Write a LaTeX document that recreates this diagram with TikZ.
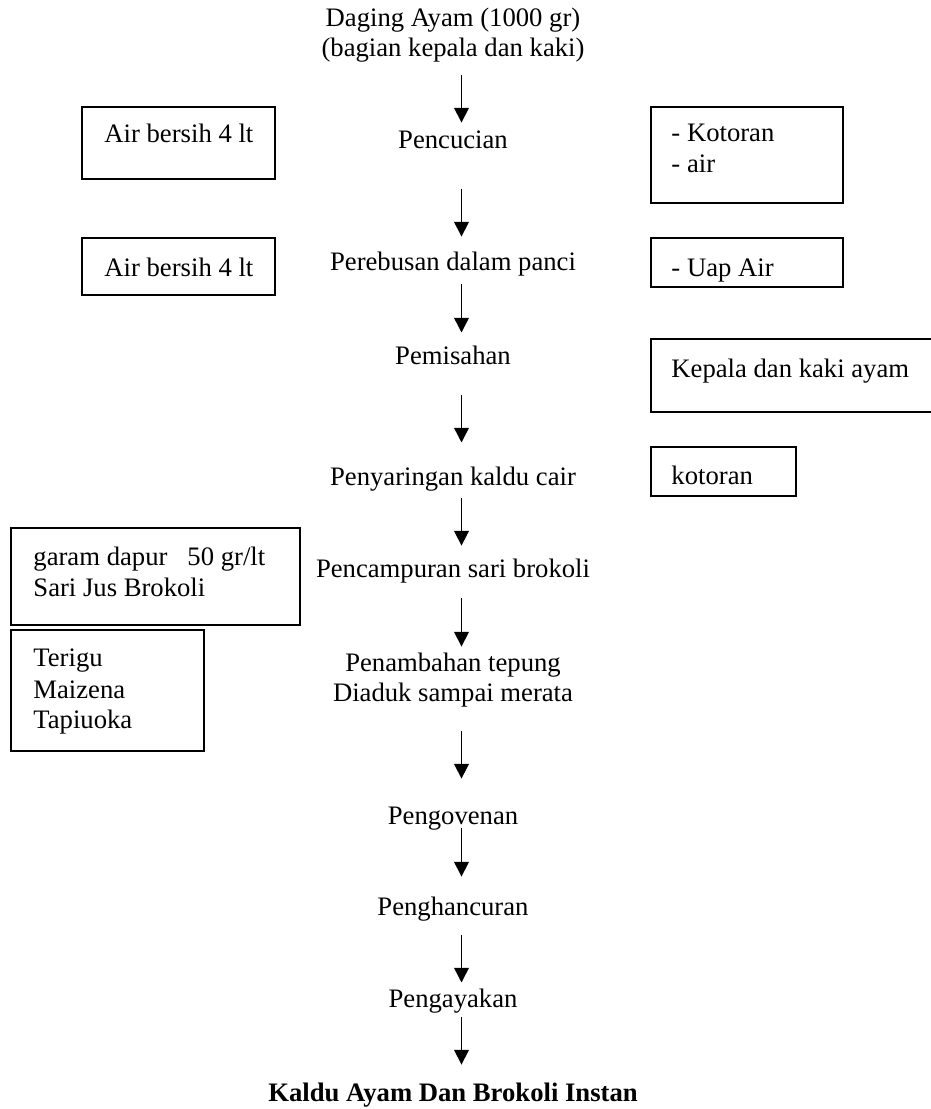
\documentclass[tikz,border=0pt]{standalone}
\usepackage{fontspec}
\setmainfont{Liberation Serif}
\usetikzlibrary{arrows.meta}

\tikzset{
    proses/.style={font=\fontsize{12}{13.9}\selectfont, inner sep=0pt, anchor=base,
        text height=8.4pt, text depth=2.64pt},
    ket/.style={proses, anchor=base west},
    kotak/.style={line width=0.9pt},
    alur/.style={-{Triangle[length=6.6pt, width=6.6pt]}, line width=0.7pt}
}

\begin{document}
\begin{tikzpicture}[x=0.45pt, y=-0.45pt]

    % Ukuran gambar
    \useasboundingbox (0,0) rectangle (931,1109);
    \coordinate (sumbu) at (461.5,0);

    % Bahan awal
    \node[proses] (judulA) at (453,27) {Daging Ayam (1000 gr)};
    \node[proses] (judulB) at (453,57) {(bagian kepala dan kaki)};

    % Tahapan proses
    \node[proses] (cuci) at (453,149) {Pencucian};
    \node[proses] (rebus) at (453,271) {Perebusan dalam panci};
    \node[proses] (pisah) at (453,364.5) {Pemisahan};
    \node[proses] (saring) at (453,485.6) {Penyaringan kaldu cair};
    \node[proses] (campur) at (453,577.6) {Pencampuran sari brokoli};
    \node[proses] (tambahA) at (453,671) {Penambahan tepung};
    \node[proses] (tambahB) at (453,701) {Diaduk sampai merata};
    \node[proses] (oven) at (453,824.6) {Pengovenan};
    \node[proses] (hancur) at (453,915) {Penghancuran};
    \node[proses] (ayak) at (453,1007.6) {Pengayakan};
    \node[proses, font=\fontsize{12}{13.9}\selectfont\bfseries] (hasil) at (453,1101) {Kaldu Ayam Dan Brokoli Instan};

    % Panah antar tahapan
    \draw[alur, shorten <=5.4pt, shorten >=3.3pt] (judulB.south -| sumbu) -- (cuci.north -| sumbu);
    \draw[alur, shorten <=15.3pt, shorten >=6.9pt] (cuci.south -| sumbu) -- (rebus.north -| sumbu);
    \draw[alur, shorten <=3.2pt, shorten >=5.8pt] (rebus.south -| sumbu) -- (pisah.north -| sumbu);
    \draw[alur, shorten <=11.1pt, shorten >=10.8pt] (pisah.south -| sumbu) -- (saring.north -| sumbu);
    \draw[alur, shorten <=2.9pt, shorten >=5.8pt] (saring.south -| sumbu) -- (campur.north -| sumbu);
    \draw[alur, shorten <=6.5pt, shorten >=2.4pt] (campur.south -| sumbu) -- (tambahA.north -| sumbu);
    \draw[alur, shorten <=10.8pt, shorten >=12.1pt] (tambahB.south -| sumbu) -- (oven.north -| sumbu);
    \draw[alur, shorten <=-1.1pt, shorten >=8.7pt] (oven.south -| sumbu) -- (hancur.north -| sumbu);
    \draw[alur, shorten <=6.3pt, shorten >=2.7pt] (hancur.south -| sumbu) -- (ayak.north -| sumbu);
    \draw[alur, shorten <=1.6pt, shorten >=7.8pt] (ayak.south -| sumbu) -- (hasil.north -| sumbu);

    % Bahan masuk (kiri)
    \draw[kotak] (82,107) rectangle (275,179);
    \node[ket] (airA) at (104,143) {Air bersih 4 lt};
    \draw[kotak] (82,238) rectangle (275,295);
    \node[ket] (airB) at (104,276) {Air bersih 4 lt};
    \draw[kotak] (11,528) rectangle (300,625);
    \node[ket] (garam) at (33,565) {garam dapur~~~50 gr/lt};
    \node[ket] (jus) at (33,596) {Sari Jus Brokoli};
    \draw[kotak] (11,630) rectangle (204,751);
    \node[ket] (terigu) at (33,666) {Terigu};
    \node[ket] (maizena) at (33,698) {Maizena};
    \node[ket] (tapioka) at (33,728) {Tapiuoka};

    % Bahan keluar (kanan)
    \draw[kotak] (651,107) rectangle (843,203);
    \node[ket] (kotorA) at (671,142) {- Kotoran};
    \node[ket] (airC) at (671,173) {- air};
    \draw[kotak] (651,238) rectangle (843,287);
    \node[ket] (uap) at (671,276) {- Uap Air};
    \draw[kotak] (651,339) rectangle (933,412);
    \node[ket] (kepala) at (671,377.6) {Kepala dan kaki ayam};
    \draw[kotak] (651,447) rectangle (796,496);
    \node[ket] (kotorB) at (671,484.5) {kotoran};

\end{tikzpicture}
\end{document}
